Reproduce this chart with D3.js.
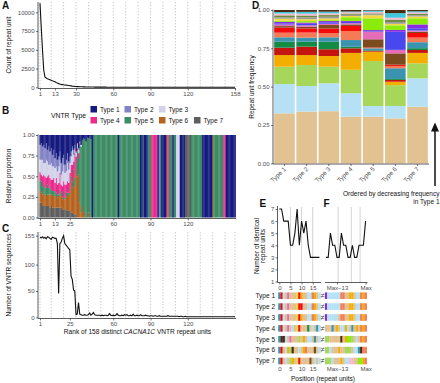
<!DOCTYPE html>
<html><head><meta charset="utf-8">
<script src="https://cdn.jsdelivr.net/npm/d3@7/dist/d3.min.js"></script>
<style>
html,body{margin:0;padding:0;background:#fff;}
svg{display:block;font-family:"Liberation Sans",Arial,Helvetica,sans-serif;}
</style></head><body>
<svg id="chart" width="440" height="383"></svg>
<script>
// ================= DATA =================
const rankTicksA = [1,13,30,60,90,120,158];
const rankTicksB = [1,13,25,60,90,120];
const rankTicksC = [1,25,60,90,120];
const rankGrid = [1,10,20,30,40,50,60,70,80,90,100,110,120,130,140,150,158];
const countTicks = [0,2500,5000,7500,10000];
const propTicks = [0,0.25,0.5,0.75,1];
const seqTicks = [0,50,100,155];

// Panel A: count of each repeat unit, by rank
const repeatCounts = [
 11200,8000,5000,2300,1350,1250,1150,1070,1000,930,
 860,800,750,640,560,490,430,390,360,330,
 310,290,265,240,210,185,160,140,120,105,
 92,85,78,72,66,60,55,50,46,42,
 39,36,33,31,29,27,25,23,22,21,
 20,19,18,17,16,15,14,14,13,13,
 12,12,11,11,10,10,10,9,9,9,
 8,8,8,8,7,7,7,7,6,6,
 6,6,6,5,5,5,5,5,5,4,
 4,4,4,4,4,4,4,3,3,3,
 3,3,3,3,3,3,3,3,2,2,
 2,2,2,2,2,2,2,2,2,2,
 2,2,2,2,2,2,2,2,1,1,
 1,1,1,1,1,1,1,1,1,1,
 1,1,1,1,1,1,1,1,1,1,
 1,1,1,1,1,1,1,1];

// Panel B: VNTR types
const vntrTypes = ["Type 1","Type 2","Type 3","Type 4","Type 5","Type 6","Type 7"];
const typeColors = ["#141a7f","#8283c5","#d2d2ea","#ec2a8c","#3d8c65","#b5631f","#5e5e5e"];
// mixed proportions for ranks 1..42
const mixT1 = [.12,.10,.14,.12,.16,.10,.18,.14,.20,.16,.24,.18,.28,.22,.30,.26,.20,.34,.28,.24,.36,.30,.22,.32,.26,.20,.14,.18,.12,.20,.10,.16,.08,.12,.06,.04,.05,.08,.03,.04,.02,.05];
const mixT2 = [.18,.20,.16,.22,.18,.20,.14,.22,.16,.18,.14,.20,.12,.16,.14,.12,.10,.14,.16,.12,.10,.14,.12,.10,.08,.06,.04,.06,.04,.02,0,.02,0,0,0,0,0,0,0,0,0,0];
const mixT3 = [.15,.18,.20,.14,.16,.22,.18,.12,.16,.20,.16,.14,.18,.14,.16,.20,.16,.12,.18,.20,.14,.16,.22,.16,.12,.10,.18,.08,.06,.04,.06,.04,.02,.02,0,0,0,0,0,0,0,0];
const mixT4 = [.10,.08,.12,.10,.14,.12,.10,.16,.10,.12,.14,.16,.10,.18,.12,.14,.20,.10,.14,.12,.16,.10,.14,.12,.18,.14,.20,.10,.30,.08,.04,.06,.02,0,0,0,0,0,0,0,0,0];
const mixT5 = [.12,.14,.10,.12,.08,.10,.12,.08,.10,.06,.06,.04,.06,.04,.04,.02,.06,.04,.02,.06,.02,.04,.04,.02,.04,.06,.08,.04,.10,.06,.30,.20,.70,.80,.80,.88,.95,.86,.97,.90,.98,.95];
const mixT6 = [.15,.12,.14,.16,.14,.12,.14,.14,.16,.14,.14,.16,.14,.14,.12,.14,.16,.14,.12,.16,.12,.16,.18,.20,.24,.38,.30,.50,.34,.56,.50,.52,.18,.06,.14,.08,0,.06,0,.06,0,0];
const mixT7 = [.18,.18,.14,.14,.14,.14,.14,.14,.12,.14,.12,.12,.12,.12,.12,.12,.12,.12,.10,.10,.10,.10,.08,.08,.08,.06,.06,.04,.04,.04,0,0,0,0,0,0,0,0,0,0,0,0];
// single type for ranks 43..158
const singleType = [
 1,
 5,5,5,5,5,5,5,5,5,5,5,5,5,5,5,5,5,5,5,5,
 1,
 5,5,5,5,5,5,5,5,5,5,5,5,5,5,5,5,5,
 1,1,5,1,1,1,5,5,5,
 4,4,4,4,4,
 1,2,5,1,1,1,1,6,4,5,5,5,1,5,5,3,3,3,1,1,1,1,
 7,7,7,7,7,
 5,5,5,5,5,5,5,5,5,
 1,1,1,1,1,1,1,1,6,
 5,5,5,5,5,5,5,5,4,4,
 1,1,1,1,1,1,1,1];

// Panel C: number of VNTR sequences containing each repeat unit
const seqCounts = [
 152,151,153,150,152,149,153,152,150,148,
 152,151,150,150,140,45,140,143,150,155,
 140,137,134,131,128,78,72,52,50,5,
 6,28,6,5,4,4,5,4,4,5,
 8,4,6,9,5,4,4,4,4,3,
 4,3,4,4,3,4,7,4,3,4,
 3,4,7,4,3,3,4,3,5,4,
 5,3,3,4,3,6,3,3,4,3,
 3,5,3,3,3,4,3,3,2,3,
 3,2,3,3,2,2,3,2,2,2,
 2,2,2,3,2,2,2,2,2,2,
 2,2,1,2,2,1,1,2,1,1,
 1,1,1,1,1,1,1,1,1,1,
 1,1,1,1,1,1,1,1,1,1,
 1,1,1,1,1,1,1,1,1,1,
 1,1,1,1,1,1,1,1];

// Panel D: repeat unit frequencies per VNTR type (Type1..Type7)
const unitCodes  = ["T","B","G","O","D","K","C","S","R","W","P","U","V","L","Y","A","E","I","N","X"];
const unitColors = ["#e3c291","#b6e1f5","#a6d75b","#f3ae00","#c5150f","#138b45","#3b94af","#f57b56","#f50a0a","#7b4a1d","#e66cb8","#4848ee","#8a2be2","#8bec0c","#f5d840","#9a9a9a","#6e8b3d","#f8b8d0","#40c8d8","#4e2a12"];
const dTan     = [.326,.337,.340,.304,.304,.293,.369];
const dLtBlue  = [.191,.167,.182,.153,.070,.081,.185];
const dLtGreen = [.113,.137,.108,.153,.293,.136,.098];
const dOrange  = [.076,.065,.070,.110,.061,.022,.068];
const dDkRed   = [.048,.055,.044,.030,.006,.012,.019];
const dDkGreen = [.039,.032,.049,.010,.004,.006,.012];
const dTeal    = [.029,.027,.029,.044,.012,.070,.039];
const dSalmon  = [.030,.033,.026,.059,.003,.015,.030];
const dRed     = [.033,.027,.032,.033,.003,.008,.030];
const dBrown   = [.010,.010,.022,.010,.053,.074,.008];
const dPink    = [.010,.010,.008,.008,.050,.023,.008];
const dBlue    = [.008,.010,.010,.008,.004,.118,.015];
const dPurple  = [.010,.008,.008,.006,.006,.012,.025];
const dLime    = [.008,.010,.006,.025,.077,.030,.040];
const dGold    = [.012,.012,.011,.008,.020,.010,.012];
const dGray    = [.010,.012,.011,.008,.006,.012,.008];
const dOlive   = [.012,.012,.011,.008,.006,.015,.008];
const dLtPink  = [.012,.012,.011,.008,.010,.013,.010];
const dCyan    = [.010,.012,.011,.005,.008,.030,.008];
const dDkBrown = [.013,.012,.011,.010,.004,.020,.008];

// Panels E/F: identical repeat units at first and last positions
const ePositions = [0,1,2,3,4,5,6,7,8,9,10,11,12,13,14,15,16,17,18];
const eIdentical = [7,7,6,6,6,4,4,5,7,4,6,5,6,4,3,3,3,3,3];
const fPositions = [-18,-17,-16,-15,-14,-13,-12,-11,-10,-9,-8,-7,-6,-5,-4,-3,-2,-1,0];
const fIdentical = [3,3,5,4,4,3,3,5,4,4,3,3,4,3,3,4,4,4,6];
const eTicks = [0,5,10,15];
const fTicks = [-13,0];
const fTickLabels = ["Max\u221213","Max"];
const fGrid = [-12.5,-6.5,-2.5];
const efYTicks = [1,2,3,4,5,6,7];
// repeat-unit sequences at start (positions 0..18) and end (Max-18..Max)
const stripStart = [
 "CRBTPTTTYROTTBBSOTB",
 "CRBTPTTTYRRTTBBSOTB",
 "CRBTPTTTYROTTBBSOTB",
 "CRBTPTBTYRTTTKTBTCB",
 "CXXBTPTTTGTOTBBTCTB",
 "CRTBOGXTTBTOSTTTWTB",
 "CRTBTGOTYRTTTTWTBTB"];
const stripEnd = [
 "VBBBBBBSSTTOOTBBSOS",
 "VBBBBBBSSTTOOTBBSOS",
 "VBBBBBTSSTTOOTBBSOS",
 "TTTCTOTBBOBTCTOTSOS",
 "GGTTTTTXTOLLGTBTSOS",
 "GGBTTTOTTGGGTBBCXSS",
 "GGGBTTTOTBBIITTLLOS"];

// ================= DRAWING =================
const svg = d3.select("#chart");
const FONT = '"Liberation Sans", Arial, Helvetica, sans-serif';
const AX = "#333";
const TICKC = "#4d4d4d";
const ranks = repeatCounts.map((d,i)=>i+1);

function txt(x,y,s,o={}){
  const t = svg.append("text").attr("x",x).attr("y",y).text(s)
    .attr("font-size",o.size||6.5).attr("fill",o.fill||"#111")
    .attr("text-anchor",o.anchor||"start").attr("font-weight",o.weight||"normal")
    .attr("font-family",FONT);
  if(o.rot) t.attr("transform",`rotate(${o.rot},${x},${y})`);
  return t;
}
function axis(gen,tx,ty){
  const a = svg.append("g").attr("transform",`translate(${tx},${ty})`).call(gen);
  a.select(".domain").remove();
  a.selectAll(".tick line").attr("stroke",AX).attr("stroke-width",0.7);
  a.selectAll(".tick text").attr("fill",TICKC).attr("font-size",6).attr("font-family",FONT);
  return a;
}
function hline(x1,x2,y){svg.append("line").attr("x1",x1).attr("x2",x2).attr("y1",y).attr("y2",y).attr("stroke",AX).attr("stroke-width",0.8);}
function vline(x,y1,y2){svg.append("line").attr("x1",x).attr("x2",x).attr("y1",y1).attr("y2",y2).attr("stroke",AX).attr("stroke-width",0.8);}

const xR = d3.scaleLinear().domain([1,158]).range([40,235]);

// ---------- Panel A ----------
const yA = d3.scaleLinear().domain([0,11200]).range([87.3,3.3]);
svg.append("g").selectAll("line").data(rankGrid).join("line")
  .attr("x1",d=>xR(d)).attr("x2",d=>xR(d)).attr("y1",2).attr("y2",87.5)
  .attr("stroke","#b8b8b8").attr("stroke-width",0.7).attr("stroke-dasharray","1.5,1.5");
svg.append("path").datum(repeatCounts)
  .attr("d",d3.line().x((d,i)=>xR(i+1)).y(d=>yA(d)))
  .attr("fill","none").attr("stroke","#111").attr("stroke-width",1.1);
vline(38,2,88.5); hline(38,236,88.5);
axis(d3.axisLeft(yA).tickValues(countTicks).tickFormat(d3.format("d")).tickSize(2).tickPadding(1.5),38,0);
axis(d3.axisBottom(xR).tickValues(rankTicksA).tickFormat(d3.format("d")).tickSize(2).tickPadding(1.2),0,88.5);
txt(2,9,"A",{size:10,weight:"bold"});
txt(11,45,"Count of repeat unit",{anchor:"middle",rot:-90});

// ---------- Panel B ----------
const mixArr = [mixT1,mixT2,mixT3,mixT4,mixT5,mixT6,mixT7];
const bRows = ranks.map((r,i)=>{
  const row = {rank:r};
  if(i < mixT1.length){ vntrTypes.forEach((t,j)=> row[t] = mixArr[j][i]); }
  else { const st = singleType[i-mixT1.length]; vntrTypes.forEach((t,j)=> row[t] = (j+1===st)?1:0); }
  return row;
});
const bStack = d3.stack().keys(vntrTypes.slice().reverse()).offset(d3.stackOffsetExpand)(bRows);
const xB = d3.scaleBand().domain(ranks).range([xR(1)-0.62,xR(158)+0.62]).padding(0);
const yB = d3.scaleLinear().domain([0,1]).range([217.5,135]);
const colorT = d3.scaleOrdinal().domain(vntrTypes).range(typeColors);
svg.append("g").selectAll("g").data(bStack).join("g").attr("fill",d=>colorT(d.key))
  .selectAll("rect").data(d=>d).join("rect")
  .attr("x",d=>xB(d.data.rank)).attr("width",xB.bandwidth()+0.25)
  .attr("y",d=>yB(d[1])).attr("height",d=>Math.max(0,yB(d[0])-yB(d[1])));
vline(38,134.5,218.5); hline(38,236,218.5);
axis(d3.axisLeft(yB).tickValues(propTicks).tickFormat(d3.format(".2f")).tickSize(2).tickPadding(1.5),38,0);
axis(d3.axisBottom(xR).tickValues(rankTicksB).tickFormat(d3.format("d")).tickSize(2).tickPadding(1.2),0,218.5);
txt(2,114,"B",{size:10,weight:"bold"});
txt(11,176,"Relative proportion",{anchor:"middle",rot:-90});
// legend
txt(51,117.5,"VNTR Type",{size:6.8});
const legX = [90.5,124.5,159,90.5,124.5,159,194];
const legY = [106,106,106,117,117,117,117];
const leg = svg.append("g").selectAll("g").data(vntrTypes).join("g");
leg.append("rect").attr("x",(d,i)=>legX[i]).attr("y",(d,i)=>legY[i]).attr("width",6.5).attr("height",6.5).attr("fill",d=>colorT(d));
leg.append("text").attr("x",(d,i)=>legX[i]+9.5).attr("y",(d,i)=>legY[i]+5.6).text(d=>d)
  .attr("font-size",6.5).attr("font-family",FONT).attr("fill","#111");

// ---------- Panel C ----------
const yC = d3.scaleLinear().domain([0,155]).range([317.3,235.7]);
svg.append("g").selectAll("line").data(rankGrid).join("line")
  .attr("x1",d=>xR(d)).attr("x2",d=>xR(d)).attr("y1",232).attr("y2",318)
  .attr("stroke","#b8b8b8").attr("stroke-width",0.7).attr("stroke-dasharray","1.5,1.5");
svg.append("path").datum(seqCounts)
  .attr("d",d3.line().x((d,i)=>xR(i+1)).y(d=>yC(d)))
  .attr("fill","none").attr("stroke","#111").attr("stroke-width",1.1);
vline(38,232,318.5); hline(38,236,318.5);
axis(d3.axisLeft(yC).tickValues(seqTicks).tickFormat(d3.format("d")).tickSize(2).tickPadding(1.5),38,0);
axis(d3.axisBottom(xR).tickValues(rankTicksC).tickFormat(d3.format("d")).tickSize(2).tickPadding(1.2),0,318.5);
txt(2,232,"C",{size:10,weight:"bold"});
txt(11,275,"Number of VNTR sequences",{anchor:"middle",rot:-90});
const ct = svg.append("text").attr("x",137.5).attr("y",333.5).attr("text-anchor","middle")
  .attr("font-size",6.6).attr("font-family",FONT).attr("fill","#111");
ct.append("tspan").text("Rank of 158 distinct ");
ct.append("tspan").attr("font-style","italic").text("CACNA1C");
ct.append("tspan").text(" VNTR repeat units");

// ---------- Panel D ----------
const dArrays = [dTan,dLtBlue,dLtGreen,dOrange,dDkRed,dDkGreen,dTeal,dSalmon,dRed,dBrown,dPink,dBlue,dPurple,dLime,dGold,dGray,dOlive,dLtPink,dCyan,dDkBrown];
const dRows = vntrTypes.map((t,j)=>{ const row={type:t}; unitCodes.forEach((u,k)=> row[u]=dArrays[k][j]); return row; });
const dStack = d3.stack().keys(unitCodes).offset(d3.stackOffsetExpand)(dRows);
const xD = d3.scaleBand().domain(vntrTypes).range([273.5,428.5]).paddingInner(0.07).paddingOuter(0.03);
const yD = d3.scaleLinear().domain([0,1]).range([163.3,10]);
const colorU = d3.scaleOrdinal().domain(unitCodes).range(unitColors);
svg.append("g").selectAll("g").data(dStack).join("g").attr("fill",d=>colorU(d.key))
  .selectAll("rect").data(d=>d).join("rect")
  .attr("x",d=>xD(d.data.type)).attr("width",xD.bandwidth())
  .attr("y",d=>yD(d[1])).attr("height",d=>Math.max(0,yD(d[0])-yD(d[1])));
vline(273,9.5,164); hline(273,429,164);
axis(d3.axisLeft(yD).tickValues(propTicks).tickFormat(d3.format(".2f")).tickSize(2).tickPadding(1.5),273,0);
axis(d3.axisBottom(xD).tickSize(2).tickFormat(""),0,164);
svg.append("g").selectAll("text").data(vntrTypes).join("text")
  .attr("transform",d=>`translate(${xD(d)+xD.bandwidth()/2+2},${169.5}) rotate(-45)`)
  .attr("text-anchor","end").attr("font-size",6.3).attr("font-family",FONT).attr("fill",TICKC).text(d=>d);
txt(252,9,"D",{size:10,weight:"bold"});
txt(254,87,"Repeat unit frequency",{anchor:"middle",rot:-90});
svg.append("line").attr("x1",435).attr("x2",435).attr("y1",186).attr("y2",130).attr("stroke","#111").attr("stroke-width",1.5);
svg.append("path").attr("d","M435,122.5 L431,131.5 L439,131.5 Z").attr("fill","#111");
txt(439.5,195.5,"Ordered by decreasing frequency",{anchor:"end"});
txt(439.5,204,"in Type 1",{anchor:"end"});

// ---------- Panels E & F ----------
const eX = d3.scaleLinear().domain([0,18]).range([279.3,319.4]);
const fX = d3.scaleLinear().domain([-18,0]).range([326,365.6]);
const efY = d3.scaleLinear().domain([1,7]).range([281.5,209]);
svg.append("g").selectAll("line").data(eTicks.slice(1)).join("line")
  .attr("x1",d=>eX(d)).attr("x2",d=>eX(d)).attr("y1",207).attr("y2",282.5)
  .attr("stroke","#d4d4d4").attr("stroke-width",1);
svg.append("g").selectAll("line").data(fGrid).join("line")
  .attr("x1",d=>fX(d)).attr("x2",d=>fX(d)).attr("y1",207).attr("y2",282.5)
  .attr("stroke","#d4d4d4").attr("stroke-width",1);
svg.append("path").datum(eIdentical)
  .attr("d",d3.line().x((d,i)=>eX(ePositions[i])).y(d=>efY(d)))
  .attr("fill","none").attr("stroke","#111").attr("stroke-width",1.1);
svg.append("path").datum(fIdentical)
  .attr("d",d3.line().x((d,i)=>fX(fPositions[i])).y(d=>efY(d)))
  .attr("fill","none").attr("stroke","#111").attr("stroke-width",1.1);
vline(277.5,206,282.5); hline(277.5,321,282.5); hline(325,367.5,282.5);
axis(d3.axisLeft(efY).tickValues(efYTicks).tickFormat(d3.format("d")).tickSize(2).tickPadding(1.2),277.5,0);
axis(d3.axisBottom(eX).tickValues(eTicks).tickFormat(d3.format("d")).tickSize(2).tickPadding(1),0,282.5);
axis(d3.axisBottom(fX).tickValues(fTicks).tickFormat((d,i)=>fTickLabels[i]).tickSize(2).tickPadding(1),0,282.5);
txt(259.5,207,"E",{size:10,weight:"bold"});
txt(323.5,207,"F",{size:10,weight:"bold"});
txt(259,246,"Number of identical",{anchor:"middle",rot:-90});
txt(265,246,"repeat units",{anchor:"middle",rot:-90});

// strips
const rowY = d3.scalePoint().domain(vntrTypes).range([295.7,361]);
const cellW = eX(1)-eX(0);
const stripG = svg.append("g");
vntrTypes.forEach((t,r)=>{
  const y = rowY(t)-3.3;
  stripG.append("g").selectAll("rect").data(stripStart[r].split("")).join("rect")
    .attr("x",(d,i)=>eX(ePositions[i])-cellW/2).attr("width",cellW+0.2)
    .attr("y",y).attr("height",6.6).attr("fill",d=>colorU(d));
  stripG.append("g").selectAll("rect").data(stripEnd[r].split("")).join("rect")
    .attr("x",(d,i)=>fX(fPositions[i])-cellW/2).attr("width",cellW+0.2)
    .attr("y",y).attr("height",6.6).attr("fill",d=>colorU(d));
  txt(322.7,rowY(t)+2.3,"\u2260",{size:7,anchor:"middle",fill:"#333"});
  txt(275,rowY(t)+2.3,t,{anchor:"end",size:6.5});
});
axis(d3.axisBottom(eX).tickValues(eTicks).tickFormat(d3.format("d")).tickSize(0).tickPadding(1),0,365.5);
axis(d3.axisBottom(fX).tickValues(fTicks).tickFormat((d,i)=>fTickLabels[i]).tickSize(0).tickPadding(1),0,365.5);
txt(323,381,"Position (repeat units)",{anchor:"middle",size:6.6});
</script>
</body></html>
